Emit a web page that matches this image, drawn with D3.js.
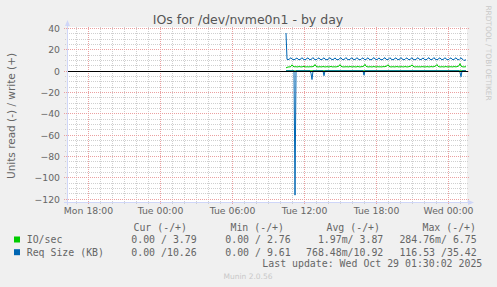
<!DOCTYPE html>
<html><head><meta charset="utf-8">
<script src="https://cdn.jsdelivr.net/npm/d3@7"></script>
<style>
html,body{margin:0;padding:0;background:#F0F0F0;}
svg{display:block;}
</style></head><body>
<svg id="c" width="497" height="287"></svg>
<script>
// ---------- data ----------
const title = "IOs for /dev/nvme0n1 - by day";
const yLabel = "Units read (-) / write (+)";
const watermark = "RRDTOOL / TOBI OETIKER";
const footer = "Munin 2.0.56";
const lastUpdate = "Last update: Wed Oct 29 01:30:02 2025";
const yTicks = [40, 20, 0, -20, -40, -60, -80, -100, -120];
const xTickLabels = ["2025-10-27T18:00", "2025-10-28T00:00", "2025-10-28T06:00", "2025-10-28T12:00", "2025-10-28T18:00", "2025-10-29T00:00"];
const viewStart = "2025-10-27T16:15";
const viewEnd = "2025-10-29T01:35";
const dataStart = "2025-10-28T10:30";
const stepMinutes = 5;

// IO/sec write (+)
const ioWrite = [
 2.76,3.2,3.5,3.7,3.6,4.1,5.6,4.2,3.8,3.7,
 3.9,3.6,3.7,4.0,3.8,3.6,3.7,3.9,4.2,3.7,
 3.6,3.8,3.7,3.6,3.9,3.7,3.8,4.0,4.4,5.9,
 4.3,3.8,3.6,3.7,3.9,3.6,3.7,4.0,3.8,3.6,
 3.7,3.9,3.7,3.6,3.8,4.1,3.7,3.6,3.8,3.7,
 3.6,3.9,4.0,4.5,5.8,4.2,3.8,3.7,3.6,3.8,
 3.7,3.9,3.6,3.7,4.0,3.8,3.6,3.7,3.9,3.7,
 3.6,3.8,4.1,3.7,3.6,3.8,3.9,4.0,4.6,6.1,
 4.3,3.8,3.7,3.6,3.9,3.7,3.6,3.8,4.0,3.7,
 3.6,3.7,3.9,3.6,3.8,3.7,3.6,4.0,3.8,3.9,
 4.2,4.6,5.7,4.1,3.8,3.6,3.7,3.9,3.6,3.7,
 3.8,4.0,3.7,3.6,3.8,3.7,3.9,3.6,3.7,4.0,
 3.8,3.6,3.7,3.9,4.1,4.5,5.6,4.2,3.8,3.6,
 3.7,3.9,3.6,3.8,3.7,3.6,4.0,3.7,3.8,3.6,
 3.7,3.9,3.8,3.6,3.7,4.0,3.8,3.7,3.9,4.3,
 4.7,5.9,4.2,3.8,3.7,3.6,3.9,3.7,3.6,3.8,
 4.0,3.7,3.6,3.8,3.7,3.9,3.6,3.7,4.0,3.8,
 3.7,3.9,4.2,4.8,6.75,4.4,3.9,3.7,3.6,3.8,
 3.79
];
// IO/sec read (-)
const ioRead = [
 0,0,0,0,0,0,0,0,0,0.28, 0,0,0,0,0,0,0,0,0,0,
 0,0,0,0,0,0,0,0,0,0, 0,0,0,0,0,0,0,0,0,0,
 0,0,0,0,0,0,0,0,0,0, 0,0,0,0,0,0,0,0,0,0,
 0,0,0,0,0,0,0,0,0,0, 0,0,0,0,0,0,0,0,0,0,
 0,0,0,0,0,0,0,0,0,0, 0,0,0,0,0,0,0,0,0,0,
 0,0,0,0,0,0,0,0,0,0, 0,0,0,0,0,0,0,0,0,0,
 0,0,0,0,0,0,0,0,0,0, 0,0,0,0,0,0,0,0,0,0,
 0,0,0,0,0,0,0,0,0,0, 0,0,0,0,0,0,0,0,0,0,
 0,0,0,0,0,0,0,0,0,0, 0,0,0,0,0,0,0,0,0,0,
 0
];
// Req Size (KB) write (+)
const reqWrite = [
 35.42,10.8,10.5,10.7,11.6,12.2,11.0,10.6,10.4,10.7,
 11.5,12.0,10.8,10.5,10.6,11.2,12.3,11.1,10.6,10.4,
 10.8,11.7,12.1,10.9,10.5,10.6,11.3,12.4,11.0,10.5,
 10.4,10.7,11.8,12.0,10.8,10.5,10.6,11.4,12.2,10.9,
 10.5,10.4,10.8,11.6,12.3,11.0,10.6,10.5,11.1,12.1,
 10.9,10.5,10.4,10.7,11.9,12.2,10.8,10.5,10.6,11.3,
 12.4,11.0,10.6,10.4,10.8,11.7,12.1,10.9,10.5,10.6,
 11.2,12.3,11.1,10.6,10.4,10.7,11.8,12.0,10.8,10.5,
 10.6,11.5,12.2,10.9,10.5,10.4,10.8,11.6,12.4,11.0,
 10.6,10.5,11.1,12.1,10.9,10.5,10.4,10.7,11.9,12.2,
 10.8,10.5,10.6,11.3,12.3,11.0,10.6,10.4,10.8,11.7,
 12.1,10.9,10.5,10.6,11.2,12.4,11.1,10.6,10.4,10.7,
 11.8,12.0,10.8,10.5,10.6,11.5,12.2,10.9,10.5,10.4,
 10.8,11.6,12.3,11.0,10.6,10.5,11.1,12.1,10.9,10.5,
 10.4,10.7,11.9,12.2,10.8,10.5,10.6,11.3,12.4,11.0,
 10.6,10.4,10.8,11.7,12.1,10.9,10.5,10.6,11.2,12.3,
 11.1,10.6,10.4,10.7,11.8,12.0,10.8,10.5,10.6,11.5,
 12.2,10.9,10.5,10.4,11.4,12.3,11.0,10.6,9.61,10.1,
 10.26
];
// Req Size (KB) read (-)
const reqRead = [
 0,0,0,0,0,0,0,0,0,116.53, 0,0,0,0,0,0,0,0,0,0,
 0,0,0,0,0,2.4,8.2,0,0,0, 0,0,0,0,0,0,0,0,4.6,0,
 0,0,0,0,0,0,0,0,0,0, 0,0,0,0,0,0,0,0,0,0,
 0,0,0,0,0,0,0,0,0,0, 0,0,0,0,0,0,0,0,4.1,0,
 0,0,0,0,0,0,0,0,0,0, 0,0,0,0,0,0,0,0,0,0,
 0,0,0,0,0,0,0,0,0,0, 0,0,0,0,0,0,0,0,0,0,
 0,0,0,0,0,0,0,0,0,0, 0,0,0,0,0,0,0,0,0,0,
 0,0,0,0,0,0,0,0,0,0, 0,0,0,0,0,0,0,0,0,0,
 0,0,0,0,0,0,0,0,0,0, 0,0,0,0,1.6,5.6,0,0,0,0,
 0
];
const seriesNames = ["IO/sec", "Req Size (KB)"];
const seriesColors = ["#00CC00", "#0066B3"];
const legendHeaders = ["Cur (-/+)", "Min (-/+)", "Avg (-/+)", "Max (-/+)"];
const legendCur = ["0.00 / 3.79", "0.00 /10.26"];
const legendMin = ["0.00 / 2.76", "0.00 / 9.61"];
const legendAvg = ["1.97m/ 3.87", "768.48m/10.92"];
const legendMax = ["284.76m/ 6.75", "116.53 /35.42"];

// ---------- layout ----------
const W = 497, H = 287;
const L = 67, R = 467, T = 27, B = 202;
const svg = d3.select("#c");
svg.append("rect").attr("width", W).attr("height", H).attr("fill", "#F0F0F0");
svg.append("rect").attr("x", L).attr("y", T).attr("width", R - L).attr("height", B - T).attr("fill", "#FFFFFF");

const parse = s => new Date(s);
const x = d3.scaleTime().domain([parse(viewStart), parse(viewEnd)]).range([L, R]);
const y = d3.scaleLinear().domain([-122.97, 41.05]).range([B, T]);
const t0 = parse(dataStart).getTime();
const timeAt = i => new Date(t0 + i * stepMinutes * 60000);

const TEXT = "#666666";
const gridG = svg.append("g");
// minor horizontal
d3.range(-120, 41, 5).filter(v => v % 20 !== 0).forEach(v => {
  const yy = Math.round(y(v)) + 0.5;
  gridG.append("line").attr("x1", L - 2).attr("x2", R + 2).attr("y1", yy).attr("y2", yy)
    .attr("stroke", "#CFCFCF").attr("stroke-dasharray", "1,1");
});
// minor vertical
x.ticks(d3.timeHour.every(1)).forEach(t => {
  if (t.getHours() % 6 === 0) return;
  const xx = Math.round(x(t)) + 0.5;
  gridG.append("line").attr("x1", xx).attr("x2", xx).attr("y1", T).attr("y2", B + 2)
    .attr("stroke", "#CFCFCF").attr("stroke-dasharray", "1,1");
});
// major horizontal
yTicks.forEach(v => {
  const yy = Math.round(y(v)) + 0.5;
  gridG.append("line").attr("x1", L - 3).attr("x2", R + 3).attr("y1", yy).attr("y2", yy)
    .attr("stroke", "#EBA0A0").attr("stroke-dasharray", "1,1");
});
// major vertical
xTickLabels.map(parse).forEach(t => {
  const xx = Math.round(x(t)) + 0.5;
  gridG.append("line").attr("x1", xx).attr("x2", xx).attr("y1", T).attr("y2", B + 3)
    .attr("stroke", "#EBA0A0").attr("stroke-dasharray", "1,1");
});

// y axis labels
const yAxis = d3.axisLeft(y).tickValues(yTicks).tickSize(0).tickPadding(0).tickFormat(d3.format("d"));
const yg = svg.append("g").attr("transform", `translate(${L - 7},0)`).call(yAxis);
yg.select(".domain").remove();
yg.selectAll("text").attr("fill", TEXT).attr("font-family", "DejaVu Sans").attr("font-size", "9.3px").attr("dy", "0.35em");

// x axis labels
const xAxis = d3.axisBottom(x).tickValues(xTickLabels.map(parse)).tickSize(0).tickPadding(0).tickFormat(d3.timeFormat("%a %H:%M"));
const xg = svg.append("g").attr("transform", `translate(0,${B + 5})`).call(xAxis);
xg.select(".domain").remove();
xg.selectAll("text").attr("fill", TEXT).attr("font-family", "DejaVu Sans").attr("font-size", "9.3px").attr("dy", "0.71em");

// series lines
const lineGen = sign => d3.line().x((d, i) => x(timeAt(i))).y(d => y(sign * d));
const linesG = svg.append("g").attr("fill", "none").attr("stroke-width", 1);
linesG.append("path").datum(ioRead).attr("d", lineGen(-1)).attr("stroke", seriesColors[0]);
linesG.append("path").datum(reqRead).attr("d", lineGen(-1)).attr("stroke", seriesColors[1]);
linesG.append("path").datum(reqWrite).attr("d", lineGen(1)).attr("stroke", seriesColors[1]);
linesG.append("path").datum(ioWrite).attr("d", lineGen(1)).attr("stroke", seriesColors[0]);

// zero line
const y0 = Math.round(y(0)) + 0.5;
svg.append("line").attr("x1", L).attr("x2", R + 1).attr("y1", y0).attr("y2", y0).attr("stroke", "#000").attr("stroke-width", 1);

// axes with arrows
const AX = "#CFD6F8";
svg.append("line").attr("x1", L + 0.5).attr("x2", L + 0.5).attr("y1", B + 3).attr("y2", T - 4).attr("stroke", AX);
svg.append("path").attr("d", `M${L - 2},${T - 1}L${L + 3},${T - 1}L${L + 0.5},${T - 7}Z`).attr("fill", AX);
svg.append("line").attr("x1", L - 3).attr("x2", R + 4).attr("y1", B + 0.5).attr("y2", B + 0.5).attr("stroke", AX);
svg.append("path").attr("d", `M${R + 1},${B - 2}L${R + 1},${B + 3}L${R + 7},${B + 0.5}Z`).attr("fill", AX);

// title
svg.append("text").attr("x", 248).attr("y", 24).attr("text-anchor", "middle")
  .attr("font-family", "DejaVu Sans").attr("font-size", "12.5px").attr("fill", "#555").text(title);
// y label
svg.append("text").attr("transform", "translate(15,116) rotate(-90)").attr("text-anchor", "middle")
  .attr("font-family", "DejaVu Sans").attr("font-size", "10.5px").attr("fill", TEXT).text(yLabel);
// watermark
svg.append("text").attr("transform", "translate(486,53) rotate(90)").attr("text-anchor", "middle")
  .attr("font-family", "DejaVu Sans").attr("font-size", "7.4px").attr("fill", "#C8C8C8").text(watermark);

// legend
const mono = "DejaVu Sans Mono";
const lg = svg.append("g").attr("font-family", mono).attr("font-size", "9.9px").attr("fill", TEXT);
const headerRight = [187, 284, 380, 476];
legendHeaders.forEach((h, i) => lg.append("text").attr("x", headerRight[i]).attr("y", 230.5).attr("text-anchor", "end").text(h));
const colRight = [196.7, 290.7, 383.3, 476.7];
const cols = [legendCur, legendMin, legendAvg, legendMax];
const rowY = [243, 255.7];
seriesNames.forEach((n, r) => {
  svg.append("rect").attr("x", 14).attr("y", rowY[r] - 6.5).attr("width", 6).attr("height", 6).attr("fill", seriesColors[r]);
  lg.append("text").attr("x", 26.7).attr("y", rowY[r]).text(n);
  cols.forEach((c, k) => lg.append("text").attr("x", colRight[k]).attr("y", rowY[r]).attr("text-anchor", "end").text(c[r]));
});
lg.append("text").attr("x", 482.3).attr("y", 267).attr("text-anchor", "end").text(lastUpdate);
svg.append("text").attr("x", 248).attr("y", 279).attr("text-anchor", "middle")
  .attr("font-family", "DejaVu Sans").attr("font-size", "7.5px").attr("fill", "#C8C8C8").text(footer);
</script>
</body></html>
